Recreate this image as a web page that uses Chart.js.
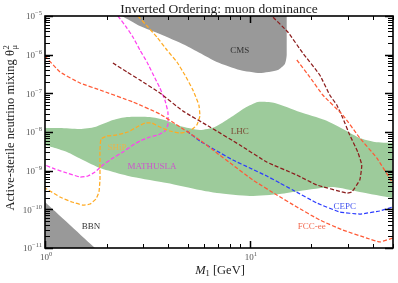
<!DOCTYPE html>
<html lang="en">
<head>
<meta charset="UTF-8">
<title>Inverted Ordering: muon dominance</title>
<script src="https://cdn.jsdelivr.net/npm/chart.js"></script>
<style>
  html, body { margin: 0; padding: 0; background: #fff; }
  #wrap { width: 398px; height: 283px; }
</style>
</head>
<body>
<div id="wrap"><canvas id="chart"></canvas></div>
<script>
// all points are [M1 in GeV, theta^2]

// excluded regions
const cmsEdge = [[2.375,1e-5],[2.907,5.51e-6],[3.639,3.42e-6],[4.82,1.78e-6],[5.703,1.1e-6],[6.902,6.46e-7],
  [8.939,4.01e-7],[11.19,3.36e-7],[13.7,4.01e-7],[14.82,5.74e-7],[15.16,9.8e-7],[15.16,1e-5]];
const bbnEdge = [[1,1.55e-10],[1.754,1e-11]];

// LHC band (upper and lower edge)
const lhcTop = [[1,1.27e-8],[1.184,1.27e-8],[1.482,1.2e-8],[1.754,1.35e-8],[2.146,2.04e-8],[2.512,2.44e-8],
  [3.252,2.44e-8],[3.849,2.04e-8],[4.555,1.43e-8],[5.703,1.13e-8],[6.749,1.35e-8],[7.989,2.3e-8],[9.454,4.18e-8],
  [10.94,5.97e-8],[13.24,5.62e-8],[17.54,3.29e-8],[23.23,2.04e-8],[29.08,1.13e-8],[34.42,7e-9],[40.73,5.51e-9],[49.85,5.19e-9]];
const lhcBottom = [[1,4.61e-9],[1.119,3.86e-9],[1.28,3.04e-9],[1.532,1.89e-9],[1.855,1.17e-9],[2.245,8.7e-10],
  [2.687,6.86e-10],[3.937,4.8e-10],[5.703,3.16e-10],[6.902,2.64e-10],[10,2.21e-10],[14.01,2.49e-10],[17.54,2.98e-10],
  [25.41,3.78e-10],[34.42,2.81e-10],[49.85,1.96e-10]];

// sensitivity curves
const fccLow = [[1,9.24e-7],[1.184,3.56e-7],[1.482,1.85e-7],[1.855,1.22e-7],[2.687,5.97e-8],[3.639,2.92e-8],
  [4.555,1.35e-8],[5.703,6.21e-9],[6.902,2.86e-9],[8.263,1.4e-9],[10.34,5.74e-10],[13.54,2.35e-10],[16.96,1.15e-10],
  [21.95,5.3e-11],[28.43,2.92e-11],[37.22,1.81e-11],[43.07,1.43e-11],[49.85,1.81e-11]];
const fccHigh = [[16.96,7.28e-7],[19.63,2.64e-7],[22.71,9.05e-8],[28.43,2.75e-8],[34.42,7e-9],[41.65,2.13e-9],[49.85,4.8e-10]];
const lhcCurve = [[2.146,6.09e-7],[2.512,3.56e-7],[2.907,2.21e-7],[3.639,1.02e-7],[4.711,3.49e-8],[6.381,1.35e-8],
  [8.939,4.61e-9],[12.1,1.67e-9],[16.96,7.72e-10],[21.23,4.26e-10],[29.74,2.64e-10],[31.45,2.81e-10],[34.42,5.74e-10],
  [35.19,1.4e-9],[33.64,3.04e-9],[30.75,8.37e-9],[28.43,2.3e-8],[26.58,4.99e-8],[24.56,9.05e-8],[21.95,2.98e-7],
  [18.14,1.1e-6],[15.32,3.86e-6],[12.8,1e-5]];
const cepc = [[4.929,1.06e-8],[5.703,5.85e-9],[6.902,3.23e-9],[8.263,1.89e-9],[10,1.17e-9],[12.1,7.28e-10],
  [14.01,4.8e-10],[16.21,3.16e-10],[21.23,1.46e-10],[27.48,8.53e-11],[34.42,7.57e-11],[43.07,9.06e-11],[49.85,1.15e-10]];
const ship = [[2.843,1e-5],[3.181,5.19e-6],[3.518,2.86e-6],[3.937,1.32e-6],[4.405,6.46e-7],[4.82,2.98e-7],
  [5.272,1.22e-7],[5.639,4.99e-8],[5.703,2.59e-8],[5.514,1.52e-8],[5.097,1.06e-8],[4.555,9.42e-9],[4.072,1.06e-8],
  [3.639,1.35e-8],[3.327,1.71e-8],[3.075,1.71e-8],[2.811,1.35e-8],[2.54,1e-8],[2.245,8.37e-9],[2.006,7.88e-9],
  [1.876,6.59e-9],[1.855,3.42e-9],[1.855,1.4e-9],[1.855,5.74e-10],[1.834,2.81e-10],[1.773,1.85e-10],[1.658,1.37e-10],
  [1.532,1.29e-10],[1.354,1.55e-10],[1.184,2.08e-10],[1.058,2.98e-10],[1,3.56e-10]];
const mathusla = [[2.271,1e-5],[2.512,4.89e-6],[2.687,2.86e-6],[2.907,1.32e-6],[3.145,6.46e-7],[3.44,2.49e-7],
  [3.639,1.37e-7],[3.849,6.72e-8],[3.981,3.29e-8],[3.981,1.52e-8],[3.849,1.06e-8],[3.558,8.37e-9],[3.252,7.43e-9],
  [2.907,5.85e-9],[2.687,4.61e-9],[2.402,3.04e-9],[2.146,2.13e-9],[1.918,1.4e-9],[1.754,9.23e-10],[1.621,7.28e-10],
  [1.482,6.86e-10],[1.28,8.7e-10],[1.119,1.1e-9],[1,1.4e-9]];

// in-plot labels
const labelText = ['CMS', 'LHC', 'SHiP', 'MATHUSLA', 'BBN', 'CEPC', 'FCC-ee'];
const labelAt = [[8.94,1.25e-6],[8.94,1e-8],[2.245,3.86e-9],[3.33,1.24e-9],[1.677,3.49e-11],[29.08,1.15e-10],[20.07,3.49e-11]];
const labelColor = ['#333', '#7a4b35', '#e9b44c', '#cc55cc', '#333', '#4455ee', '#f26a50'];

// axis ticks
const xDecades = [0, 1];
const yDecades = [-11, -10, -9, -8, -7, -6, -5];

const SERIF = '"Liberation Serif", "DejaVu Serif", serif';
const toPts = arr => arr.map(([x, y]) => ({ x, y }));

function curve(pts, color) {
  return { data: toPts(pts), showLine: true, borderColor: color, borderWidth: 1.25, borderDash: [4, 2],
           pointRadius: 0, fill: false, tension: 0.12, order: 0 };
}
function area(pts, color, fill) {
  return { data: toPts(pts), showLine: true, borderColor: 'rgba(0,0,0,0)', borderWidth: 1,
           backgroundColor: color, pointRadius: 0, fill: fill, tension: 0.2, order: 5 };
}

function drawPower(ctx, exp, x, y, align) {
  const base = '10', sup = String(exp).replace('-', '\u2212');
  ctx.font = '9px ' + SERIF;
  const wb = ctx.measureText(base).width;
  ctx.font = '6.5px ' + SERIF;
  const ws = ctx.measureText(sup).width;
  let left = align === 'right' ? x - wb - ws : x - (wb + ws) / 2;
  ctx.textAlign = 'left';
  ctx.textBaseline = 'middle';
  ctx.font = '9px ' + SERIF;
  ctx.fillText(base, left, y);
  ctx.font = '6.5px ' + SERIF;
  ctx.fillText(sup, left + wb, y - 3.5);
}

const decor = {
  id: 'decor',
  afterDatasetsDraw(chart) {
    const { ctx, chartArea: a, scales: { x, y } } = chart;
    ctx.save();
    ctx.textAlign = 'center';
    ctx.textBaseline = 'middle';
    ctx.font = '9px ' + SERIF;
    labelText.forEach((t, i) => {
      ctx.fillStyle = labelColor[i];
      ctx.fillText(t, x.getPixelForValue(labelAt[i][0]), y.getPixelForValue(labelAt[i][1]));
    });

    // inward ticks on all four sides
    ctx.strokeStyle = '#000';
    for (const d of [0, 1]) {
      for (let k = 1; k <= 9; k++) {
        const v = k * Math.pow(10, d);
        if (v < 1 || v > 50) continue;
        const px = Math.round(x.getPixelForValue(v)) + 0.5;
        const len = k === 1 ? 7 : 4;
        ctx.lineWidth = k === 1 ? 1.5 : 1;
        ctx.beginPath();
        ctx.moveTo(px, a.bottom); ctx.lineTo(px, a.bottom - len);
        ctx.moveTo(px, a.top); ctx.lineTo(px, a.top + len);
        ctx.stroke();
      }
    }
    for (let d = -11; d <= -5; d++) {
      for (let k = 1; k <= 9; k++) {
        const v = k * Math.pow(10, d);
        if (v > 1.0001e-5) continue;
        const py = Math.round(y.getPixelForValue(v)) + 0.5;
        const len = k === 1 ? 8 : 5;
        ctx.lineWidth = k === 1 ? 1.5 : 1;
        ctx.beginPath();
        ctx.moveTo(a.left, py); ctx.lineTo(a.left + len, py);
        ctx.moveTo(a.right, py); ctx.lineTo(a.right - len, py);
        ctx.stroke();
      }
    }
    ctx.lineWidth = 1.6;
    ctx.strokeRect(a.left, a.top, a.right - a.left, a.bottom - a.top);
    ctx.restore();
  },
  afterDraw(chart) {
    const { ctx, scales: { x, y } } = chart;
    ctx.save();
    ctx.fillStyle = '#555';
    xDecades.forEach(d => drawPower(ctx, d, x.getPixelForValue(Math.pow(10, d)) + 1, 258, 'center'));
    yDecades.forEach(d => drawPower(ctx, d, 42, y.getPixelForValue(Math.pow(10, d)) + 1, 'right'));

    // title
    ctx.fillStyle = '#222';
    ctx.textAlign = 'center';
    ctx.textBaseline = 'alphabetic';
    ctx.font = '13.5px ' + SERIF;
    ctx.fillText('Inverted Ordering: muon dominance', 219, 13);

    // x title: M_1 [GeV]
    ctx.textAlign = 'left';
    ctx.textBaseline = 'middle';
    ctx.font = 'italic 12.5px ' + SERIF;
    const wM = ctx.measureText('M').width;
    ctx.font = '8.5px ' + SERIF;
    const w1 = ctx.measureText('1').width;
    ctx.font = '12.5px ' + SERIF;
    const wG = ctx.measureText(' [GeV]').width;
    let sx = 220 - (wM + w1 + wG) / 2;
    ctx.font = 'italic 12.5px ' + SERIF;
    ctx.fillText('M', sx, 271);
    ctx.font = '8.5px ' + SERIF;
    ctx.fillText('1', sx + wM, 274);
    ctx.font = '12.5px ' + SERIF;
    ctx.fillText(' [GeV]', sx + wM + w1, 271);

    // y title, rotated
    ctx.translate(11, 128);
    ctx.rotate(-Math.PI / 2);
    ctx.font = '12.5px ' + SERIF;
    const main = 'Active-sterile neutrino mixing \u03B8';
    const wMain = ctx.measureText(main).width;
    ctx.font = '8.5px ' + SERIF;
    const wS = Math.max(ctx.measureText('2').width, ctx.measureText('\u03BC').width);
    sx = -(wMain + wS) / 2;
    ctx.font = '12.5px ' + SERIF;
    ctx.fillText(main, sx, 0);
    ctx.font = '8.5px ' + SERIF;
    ctx.fillText('2', sx + wMain + 0.5, -4.5);
    ctx.fillText('\u03BC', sx + wMain + 0.5, 4);
    ctx.restore();
  }
};

new Chart(document.getElementById('chart'), {
  type: 'scatter',
  data: {
    datasets: [
      curve(fccLow, '#ff5a36'),
      curve(fccHigh, '#ff5a36'),
      curve(lhcCurve, '#8b1c1c'),
      curve(cepc, '#2b3bff'),
      curve(ship, '#ffaa22'),
      curve(mathusla, '#ff40f0'),
      area(cmsEdge, '#999999', 'end'),
      area(bbnEdge, '#999999', 'start'),
      area(lhcTop, '#9dcb9b', '+1'),
      area(lhcBottom, 'rgba(0,0,0,0)', false)
    ]
  },
  options: {
    responsive: true,
    maintainAspectRatio: false,
    animation: false,
    events: [],
    layout: { padding: { top: 16, right: 5, left: 0, bottom: 0 } },
    plugins: { legend: { display: false }, tooltip: { enabled: false }, title: { display: false } },
    scales: {
      x: { type: 'logarithmic', min: 1, max: 50, grid: { display: false }, border: { display: false },
           ticks: { display: false }, afterFit: s => { s.height = 35; } },
      y: { type: 'logarithmic', min: 1e-11, max: 1e-5, grid: { display: false }, border: { display: false },
           ticks: { display: false }, afterFit: s => { s.width = 45; } }
    }
  },
  plugins: [decor]
});
</script>
</body>
</html>
